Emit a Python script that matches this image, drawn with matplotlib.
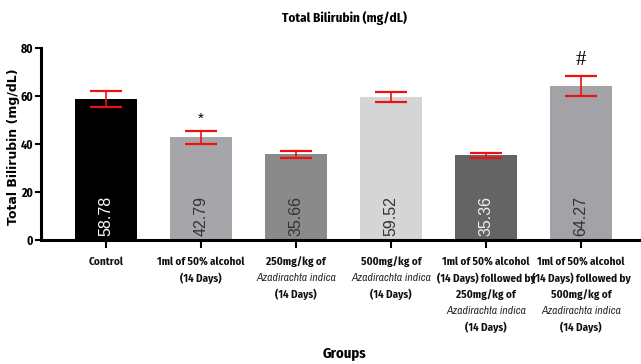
import matplotlib
matplotlib.use("Agg")
import matplotlib.pyplot as plt
import matplotlib.transforms as mtransforms

# Group labels: list of (text, italic) lines per group
groups = [
    [("Control", False)],
    [("1ml of 50% alcohol", False), ("(14 Days)", False)],
    [("250mg/kg of", False), ("Azadirachta indica", True), ("(14 Days)", False)],
    [("500mg/kg of", False), ("Azadirachta indica", True), ("(14 Days)", False)],
    [("1ml of 50% alcohol", False), ("(14 Days) followed by", False),
     ("250mg/kg of", False), ("Azadirachta indica", True), ("(14 Days)", False)],
    [("1ml of 50% alcohol", False), ("(14 Days) followed by", False),
     ("500mg/kg of", False), ("Azadirachta indica", True), ("(14 Days)", False)],
]
means = [58.78, 42.79, 35.66, 59.52, 35.36, 64.27]
errors = [3.4, 2.8, 1.5, 2.1, 1.0, 4.2]
marks = ["", "*", "", "", "", "#"]
bar_colors = ["#000000", "#a6a6aa", "#8a8a8a", "#d5d5d5", "#646464", "#a3a3a7"]
value_colors = ["#ffffff", "#333333", "#333333", "#333333", "#f0f0f0", "#333333"]
yticks = [0, 20, 40, 60, 80]

narrow_bold = ["Fira Sans Condensed", "Liberation Sans", "DejaVu Sans"]
narrow_ital = ["Archivo Narrow", "Liberation Sans", "DejaVu Sans"]
arial = ["Liberation Sans", "DejaVu Sans"]

fig = plt.figure(figsize=(6.41, 3.64), dpi=100)
ax = fig.add_axes([41 / 641, 1 - 240 / 364, 600 / 641, 192 / 364])

x = list(range(len(means)))
ax.bar(x, means, width=0.66, color=bar_colors, edgecolor="none", zorder=2)
ax.errorbar(x, means, yerr=errors, fmt="none", ecolor="#ee1111",
            elinewidth=1.2, capsize=11.5, capthick=1.6, zorder=3)

ax.set_xlim(-0.684, 5.632)
ax.set_ylim(0, 80)
ax.set_yticks(yticks)
ax.set_yticklabels([str(v) for v in yticks], family=narrow_bold,
                   fontweight="bold", fontsize=8.5)
ax.tick_params(axis="y", length=4, width=1.5, pad=1.5)
ax.set_xticks(x)
ax.set_xticklabels([""] * len(x))
ax.tick_params(axis="x", length=6, width=1.5, direction="out")
for side in ("top", "right"):
    ax.spines[side].set_visible(False)
for side in ("left", "bottom"):
    ax.spines[side].set_linewidth(2.2)

# Values written inside the bars
for xi, v, c in zip(x, means, value_colors):
    ax.text(xi, 1.5, f"{v:.2f}", rotation=90, ha="center", va="bottom",
            color=c, family=arial, fontsize=11.5)

# Significance marks above the error bars
for xi, v, e, m in zip(x, means, errors, marks):
    if m == "*":
        ax.text(xi, v + e + 2.0, m, ha="center", va="bottom", fontsize=11,
                family=arial)
    elif m == "#":
        ax.text(xi, v + e + 2.2, m, ha="center", va="bottom", fontsize=15,
                family=["Liberation Serif", "DejaVu Serif"])

# Multi-line group labels under the ticks
trans = mtransforms.blended_transform_factory(ax.transData, fig.transFigure)
for xi, lines in zip(x, groups):
    for k, (txt, ital) in enumerate(lines):
        ypix = 262 + 16.4 * k
        ax.text(xi, 1 - ypix / 364, txt, transform=trans, ha="center",
                va="center", fontsize=8.4 if ital else 8.0,
                family=narrow_ital if ital else narrow_bold,
                fontweight="normal" if ital else "bold",
                fontstyle="italic" if ital else "normal",
                color="#2a2a2a" if ital else "#111111")

fig.text(344 / 641, 1 - 18 / 364, "Total Bilirubin (mg/dL)", ha="center",
         va="center", fontsize=9.5, fontweight="bold", family=narrow_bold)
fig.text(14 / 641, 1 - 147 / 364, "Total Bilirubin (mg/dL)", rotation=90,
         ha="center", va="center", fontsize=9, fontweight="bold",
         family="DejaVu Sans")
fig.text(344 / 641, 1 - 353 / 364, "Groups", ha="center", va="center",
         fontsize=10.5, fontweight="bold", family=narrow_bold)

fig.savefig("out.png", dpi=100)
